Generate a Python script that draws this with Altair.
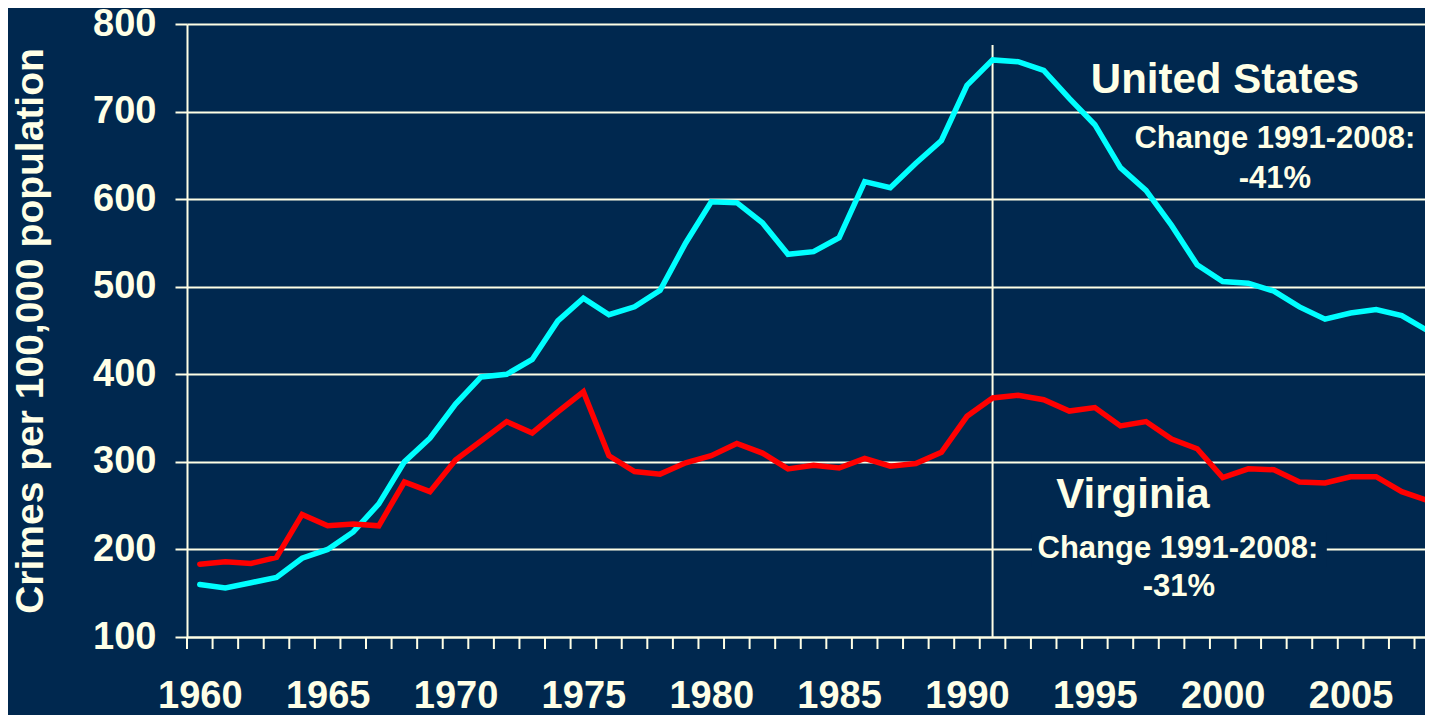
import altair as alt
import pandas as pd

# ---------------- data ----------------
years = list(range(1960, 2009))
us_rate = [160, 156, 162, 168, 190, 200, 220, 252, 300, 327,
           366, 397, 400, 417, 461, 487, 468, 477, 496, 550,
           597, 596, 573, 537, 540, 556, 620, 613, 641, 667,
           730, 759, 757, 747, 715, 685, 636, 610, 570, 525,
           506, 504, 495, 477, 463, 470, 474, 467, 450]
va_rate = [183, 186, 184, 191, 240, 227, 229, 227, 277, 266,
           302, 324, 346, 333, 357, 380, 307, 289, 286, 299,
           307, 321, 310, 292, 296, 293, 304, 295, 298, 311,
           352, 373, 376, 371, 358, 362, 341, 346, 326, 315,
           282, 292, 291, 277, 276, 283, 283, 266, 256]
series_names = ["United States", "Virginia"]
series_colors = ["#00FFFF", "#FF0000"]
y_ticks = [100, 200, 300, 400, 500, 600, 700, 800]
x_label_years = [1960, 1965, 1970, 1975, 1980, 1985, 1990, 1995, 2000, 2005]
# tick marks sit on the boundaries between years
x_tick_positions = [1959.5, 1960.5, 1961.5, 1962.5, 1963.5, 1964.5, 1965.5,
                    1966.5, 1967.5, 1968.5, 1969.5, 1970.5, 1971.5, 1972.5,
                    1973.5, 1974.5, 1975.5, 1976.5, 1977.5, 1978.5, 1979.5,
                    1980.5, 1981.5, 1982.5, 1983.5, 1984.5, 1985.5, 1986.5,
                    1987.5, 1988.5, 1989.5, 1990.5, 1991.5, 1992.5, 1993.5,
                    1994.5, 1995.5, 1996.5, 1997.5, 1998.5, 1999.5, 2000.5,
                    2001.5, 2002.5, 2003.5, 2004.5, 2005.5, 2006.5, 2007.5]

marker_year = [1991]
marker_top = [776]

ann_text = ["United States", "Change 1991-2008:", "-41%",
            "Virginia", "Change 1991-2008:", "-31%"]
ann_x = [2000.09, 2002.04, 2002.04, 1996.49, 1998.25, 1998.29]
ann_y = [736, 669, 623, 262, 200.5, 157]
ann_size = [42, 31, 31, 42, 31, 31]

# box that hides the grid line behind the Virginia change text
gap_x = [1992.54]
gap_x2 = [2004.07]
gap_y = [180]
gap_y2 = [220]

# ---------------- tables ----------------
rows = []
for name, vals in zip(series_names, [us_rate, va_rate]):
    for yr, v in zip(years, vals):
        rows.append({"year": yr, "rate": v, "series": name})
df = pd.DataFrame(rows)
ann_df = pd.DataFrame({"text": ann_text, "x": ann_x, "y": ann_y, "size": ann_size})
gap_df = pd.DataFrame({"x": gap_x, "x2": gap_x2, "y": gap_y, "y2": gap_y2})
marker_df = pd.DataFrame({"year": marker_year, "y": [100], "y2": marker_top})
tick_df = pd.DataFrame({"pos": x_tick_positions})

BG = "#00284F"
FG = "#FFFFE6"
FONT = "Liberation Sans"

W, H = 1238, 613
xscale = alt.Scale(domain=[1959.5, 2007.91], nice=False, zero=False)
yscale = alt.Scale(domain=[100, 800], nice=False, zero=False)

x_axis = alt.Axis(
    values=x_label_years, format="d", labelOverlap=False, labelFlush=False,
    labelBound=False, grid=False, title=None, ticks=False, tickSize=0,
    domainColor=FG, domainWidth=2, labelPadding=40,
    labelFont=FONT, labelFontSize=38, labelFontWeight="bold", labelColor=FG,
)
y_axis = alt.Axis(
    values=y_ticks, grid=True, gridColor=FG, gridWidth=2, gridOpacity=1,
    tickSize=12, tickWidth=2, tickColor=FG, domainColor=FG, domainWidth=2,
    labelPadding=19, labelFont=FONT, labelFontSize=38, labelFontWeight="bold",
    labelColor=FG, title="Crimes per 100,000 population", titleFont=FONT,
    titleFontSize=39, titleFontWeight="bold", titleColor=FG, titlePadding=42,
)

lines = alt.Chart(df).mark_line(strokeWidth=5.5, strokeCap="round").encode(
    x=alt.X("year:Q", scale=xscale, axis=x_axis),
    y=alt.Y("rate:Q", scale=yscale, axis=y_axis),
    color=alt.Color("series:N", scale=alt.Scale(domain=series_names, range=series_colors), legend=None),
)

ticks = alt.Chart(tick_df).mark_rule(color=FG, strokeWidth=2).encode(
    x=alt.X("pos:Q", scale=xscale),
    y=alt.value(H), y2=alt.value(H + 12),
)

gap = alt.Chart(gap_df).mark_rect(color=BG).encode(
    x=alt.X("x:Q", scale=xscale), x2="x2:Q",
    y=alt.Y("y:Q", scale=yscale), y2="y2:Q",
)

marker = alt.Chart(marker_df).mark_rule(color=FG, strokeWidth=2).encode(
    x=alt.X("year:Q", scale=xscale),
    y=alt.Y("y:Q", scale=yscale), y2="y2:Q",
)

texts = alt.Chart(ann_df).mark_text(
    font=FONT, fontWeight="bold", color=FG, align="center", baseline="middle"
).encode(
    x=alt.X("x:Q", scale=xscale),
    y=alt.Y("y:Q", scale=yscale),
    text="text:N",
    size=alt.Size("size:Q", scale=None, legend=None),
)

chart = alt.layer(gap, marker, ticks, lines, texts).properties(
    width=W, height=H,
    autosize=alt.AutoSizeParams(type="none"),
    padding={"left": 179, "top": 16, "right": 0, "bottom": 78},
    background=BG,
).configure_view(stroke=None)

chart.save("out.html", embed_options={"renderer": "svg", "actions": False})
